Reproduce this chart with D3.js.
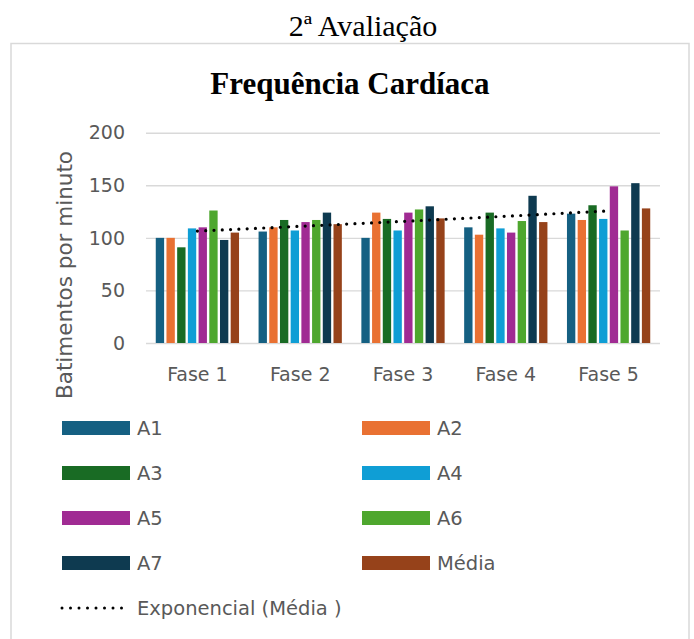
<!DOCTYPE html>
<html>
<head>
<meta charset="utf-8">
<script src="https://cdn.jsdelivr.net/npm/d3@7"></script>
<style>
  html, body { margin: 0; padding: 0; background: #fff; }
  svg { display: block; }
</style>
</head>
<body>
<svg id="chart" width="694" height="639"></svg>
<script>
// Heart rate per phase for each subject, plus the group mean
const phases = ["Fase 1", "Fase 2", "Fase 3", "Fase 4", "Fase 5"];
const seriesNames = ["A1", "A2", "A3", "A4", "A5", "A6", "A7", "Média"];
const A1 = [100, 106, 100, 110, 123];
const A2 = [100, 110, 124, 103, 117];
const A3 = [91, 117, 118, 124, 131];
const A4 = [109, 107, 107, 109, 118];
const A5 = [110, 115, 124, 105, 149];
const A6 = [126, 117, 127, 116, 107];
const A7 = [98, 124, 130, 140, 152];
const Media = [105, 113, 118.5, 115, 128];
const yTicks = [0, 50, 100, 150, 200];
const colors = ["#156082", "#E97132", "#196B24", "#0F9ED5", "#A02B93", "#4EA72E", "#0E3A50", "#96421A"];

const seriesValues = [A1, A2, A3, A4, A5, A6, A7, Media];
const rows = [];
seriesValues.forEach((vals, s) => vals.forEach((v, i) => rows.push({ phase: phases[i], series: seriesNames[s], value: v })));

const svg = d3.select("#chart");
const sans = "'DejaVu Sans', sans-serif";
const serif = "'Liberation Serif', 'Times New Roman', serif";
const grey = "#595959";

svg.append("rect").attr("width", 694).attr("height", 639).attr("fill", "#fff");

// chart frame
svg.append("rect")
  .attr("x", 11).attr("y", 43.5).attr("width", 678).attr("height", 640)
  .attr("fill", "none").attr("stroke", "#d9d9d9").attr("stroke-width", 1.5);

svg.append("text")
  .attr("x", 363).attr("y", 36)
  .attr("text-anchor", "middle")
  .style("font-family", serif).style("font-size", "30px").attr("fill", "#000")
  .text("2ª Avaliação");

svg.append("text")
  .attr("x", 350).attr("y", 94)
  .attr("text-anchor", "middle")
  .style("font-family", serif).style("font-size", "31px").style("font-weight", "bold").attr("fill", "#000")
  .text("Frequência Cardíaca");

// scales
const x0 = d3.scaleBand().domain(phases).range([146, 660]).paddingInner(0.19).paddingOuter(0.095);
const x1 = d3.scaleBand().domain(seriesNames).range([0, x0.bandwidth()]).paddingInner(0.22).paddingOuter(0);
const y = d3.scaleLinear().domain([0, 200]).range([343, 132.7]);
const color = d3.scaleOrdinal().domain(seriesNames).range(colors);

// gridlines and value axis
const yAxis = d3.axisLeft(y).tickValues(yTicks).tickSize(-(660 - 146)).tickPadding(21);
const gy = svg.append("g").attr("transform", "translate(146,0)").call(yAxis);
gy.select(".domain").remove();
gy.selectAll(".tick line").attr("stroke", "#d9d9d9").attr("stroke-width", 1.4);
gy.selectAll(".tick text")
  .attr("fill", grey).style("font-family", sans).style("font-size", "19px")
  .attr("dy", "0.33em");

// bars
svg.append("g").selectAll("rect").data(rows).join("rect")
  .attr("x", d => x0(d.phase) + x1(d.series))
  .attr("width", x1.bandwidth())
  .attr("y", d => y(d.value))
  .attr("height", d => y(0) - y(d.value))
  .attr("fill", d => color(d.series));

// category axis labels
const xAxis = d3.axisBottom(x0).tickSize(0).tickPadding(0);
const gx = svg.append("g").attr("transform", "translate(0,343)").call(xAxis);
gx.select(".domain").remove();
gx.selectAll(".tick text")
  .attr("fill", grey).style("font-family", sans).style("font-size", "19px")
  .attr("y", 38).attr("dy", 0);

// exponential trendline fitted to the mean: y = a * e^(b x)
const xs = Media.map((_, i) => i + 1);
const lnY = Media.map(v => Math.log(v));
const mx = d3.mean(xs), my = d3.mean(lnY);
const b = d3.sum(xs, (xv, i) => (xv - mx) * (lnY[i] - my)) / d3.sum(xs, xv => (xv - mx) ** 2);
const a = Math.exp(my - b * mx);
const xIdx = d3.scaleLinear().domain([1, phases.length])
  .range([x0(phases[0]) + x0.bandwidth() / 2, x0(phases[phases.length - 1]) + x0.bandwidth() / 2]);
const trend = d3.range(1, phases.length + 0.001, 0.05).map(t => [xIdx(t), y(a * Math.exp(b * t))]);
svg.append("path")
  .attr("d", d3.line()(trend))
  .attr("fill", "none").attr("stroke", "#000").attr("stroke-width", 3.2)
  .attr("stroke-linecap", "round").attr("stroke-dasharray", "0 8.3");

// legend
const legendItems = seriesNames.map((name, i) => ({ name, col: i % 2, row: Math.floor(i / 2) }));
const colX = [62, 362];
const rowY = r => 428 + r * 45;
const lg = svg.append("g");
lg.selectAll("rect").data(legendItems).join("rect")
  .attr("x", d => colX[d.col]).attr("y", d => rowY(d.row) - 7)
  .attr("width", 68).attr("height", 14)
  .attr("fill", d => color(d.name));
lg.selectAll("text.item").data(legendItems).join("text")
  .attr("class", "item")
  .attr("x", d => colX[d.col] + 75).attr("y", d => rowY(d.row) + 7)
  .attr("fill", grey).style("font-family", sans).style("font-size", "19.5px")
  .text(d => d.name);

const trendRow = rowY(4);
lg.append("line")
  .attr("x1", 62).attr("x2", 130).attr("y1", trendRow).attr("y2", trendRow)
  .attr("stroke", "#000").attr("stroke-width", 3)
  .attr("stroke-linecap", "round").attr("stroke-dasharray", "0 8.5");
lg.append("text")
  .attr("x", 137).attr("y", trendRow + 7)
  .attr("fill", grey).style("font-family", sans).style("font-size", "19.5px")
  .text("Exponencial (Média )");

// y axis title
svg.append("text")
  .attr("transform", "translate(72,275) rotate(-90)")
  .attr("text-anchor", "middle")
  .attr("fill", grey).style("font-family", sans).style("font-size", "21.5px")
  .text("Batimentos por minuto");
</script>
</body>
</html>
